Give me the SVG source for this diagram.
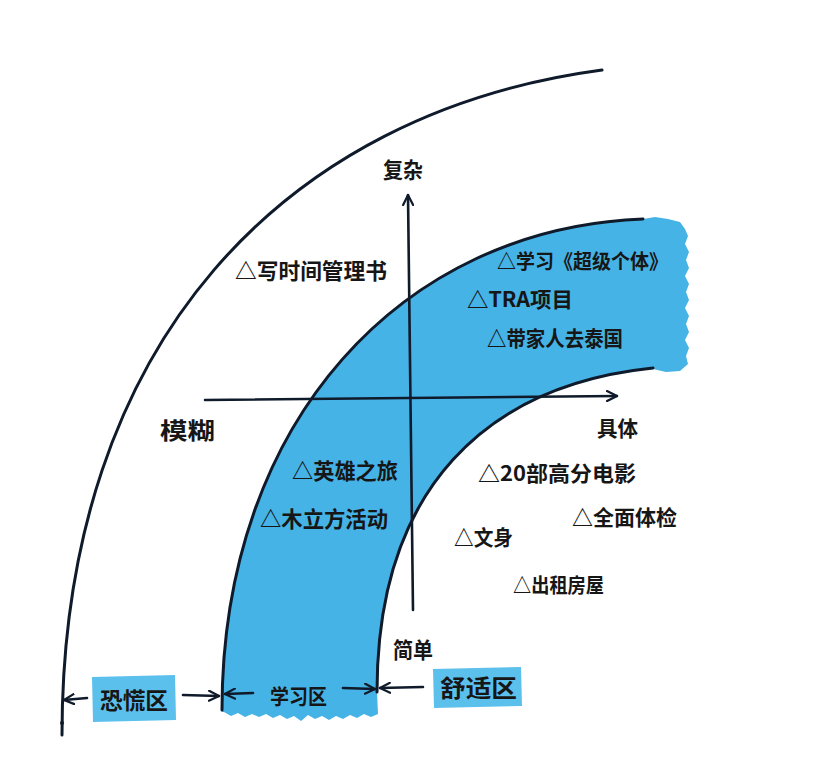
<svg xmlns="http://www.w3.org/2000/svg" width="816" height="776" viewBox="0 0 816 776">
<style>
  .ln{fill:none;stroke:#0f1a2b;stroke-width:3;stroke-linecap:round;stroke-linejoin:round}
  .ax{fill:none;stroke:#0f1a2b;stroke-width:2.6;stroke-linecap:round}
  .t{font-family:"Noto Sans CJK SC","Noto Sans",sans-serif;font-weight:700;fill:#161616}
  .blue{fill:#46b3e6}
  .box{fill:#5cc0ec}
</style>
<defs>
  <marker id="arr" viewBox="0 0 12 12" markerWidth="12" markerHeight="12" refX="11" refY="6" orient="auto" markerUnits="userSpaceOnUse">
    <path d="M1,1 L11,6 L1,11" fill="none" stroke="#0f1a2b" stroke-width="2.2" stroke-linecap="round" stroke-linejoin="round"/>
  </marker>
</defs>
<rect width="816" height="776" fill="#ffffff"/>

<g id="learning-zone-band">
  <path class="blue" d="M222,712 C222,420 403,228 643,219 L655,217 L668,219 L680,222 L685,229 L688,236 L685,244 L689,252 L686,260 L689,268 L685,276 L689,284 L686,292 L689,300 L685,308 L689,316 L686,324 L689,332 L685,340 L689,348 L686,356 L688,364 L680,371 L666,372 L653,369 C488,385 377,487 377,692 L378,714 L371,717 L364,714 L357,718 L350,715 L343,719 L336,716 L329,720 L322,716 L315,719 L308,715 L301,721 L294,716 L287,719 L280,715 L273,718 L266,714 L259,717 L252,714 L245,717 L238,713 L231,716 L224,712 Z"/>
  <path class="ln" d="M222,710 C222,420 403,228 643,219"/>
  <path class="ln" d="M377,692 C377,487 488,385 653,368"/>
</g>

<g id="panic-zone-boundary">
  <path class="ln" d="M62,735 C62,340 287,112 602,70"/>
  <circle cx="62" cy="723" r="2" fill="#0f1a2b"/>
</g>

<g id="connectors">
  <line class="ax" x1="413" y1="610" x2="408" y2="195" marker-end="url(#arr)"/>
  <line class="ax" x1="205" y1="400" x2="617" y2="396" marker-end="url(#arr)"/>
  <line class="ax" x1="87" y1="698" x2="64" y2="700" marker-end="url(#arr)"/>
  <line class="ax" x1="183" y1="695" x2="219" y2="696" marker-end="url(#arr)"/>
  <line class="ax" x1="253" y1="693" x2="225" y2="694" marker-end="url(#arr)"/>
  <line class="ax" x1="343" y1="688" x2="375" y2="689" marker-end="url(#arr)"/>
  <line class="ax" x1="423" y1="687" x2="380" y2="688" marker-end="url(#arr)"/>
</g>

<g id="axis-complex"><text class="t" x="383" y="178" font-size="22" textLength="40" lengthAdjust="spacingAndGlyphs">复杂</text></g>
<g id="axis-vague"><text class="t" x="160" y="439" font-size="23" textLength="55" lengthAdjust="spacingAndGlyphs">模糊</text></g>
<g id="axis-concrete"><text class="t" x="597" y="436" font-size="21" textLength="41" lengthAdjust="spacingAndGlyphs">具体</text></g>
<g id="axis-simple"><text class="t" x="393" y="658" font-size="22" textLength="40" lengthAdjust="spacingAndGlyphs">简单</text></g>

<g id="item-time-book"><text class="t" x="235" y="279" font-size="22" textLength="152" lengthAdjust="spacingAndGlyphs">△写时间管理书</text></g>
<g id="item-super-individual"><text class="t" x="497" y="269" font-size="20" textLength="171" lengthAdjust="spacingAndGlyphs">△学习《超级个体》</text></g>
<g id="item-tra"><text class="t" x="467" y="307" font-size="21" textLength="106" lengthAdjust="spacingAndGlyphs">△TRA项目</text></g>
<g id="item-thailand"><text class="t" x="487" y="346" font-size="21" textLength="136" lengthAdjust="spacingAndGlyphs">△带家人去泰国</text></g>
<g id="item-hero-journey"><text class="t" x="292" y="479" font-size="22" textLength="106" lengthAdjust="spacingAndGlyphs">△英雄之旅</text></g>
<g id="item-wood-cube"><text class="t" x="260" y="527" font-size="22" textLength="128" lengthAdjust="spacingAndGlyphs">△木立方活动</text></g>
<g id="item-movies"><text class="t" x="478" y="481" font-size="21" textLength="158" lengthAdjust="spacingAndGlyphs">△20部高分电影</text></g>
<g id="item-checkup"><text class="t" x="572" y="525" font-size="21" textLength="105" lengthAdjust="spacingAndGlyphs">△全面体检</text></g>
<g id="item-tattoo"><text class="t" x="454" y="545" font-size="21" textLength="59" lengthAdjust="spacingAndGlyphs">△文身</text></g>
<g id="item-rent"><text class="t" x="513" y="593" font-size="20" textLength="91" lengthAdjust="spacingAndGlyphs">△出租房屋</text></g>

<g id="label-panic">
  <path class="box" d="M92,677 L175,675 L176,720 L93,722 Z"/>
  <text class="t" x="100" y="709" font-size="23" textLength="68" lengthAdjust="spacingAndGlyphs">恐慌区</text>
</g>
<g id="label-learning">
  <text class="t" x="270" y="704" font-size="21" textLength="57" lengthAdjust="spacingAndGlyphs">学习区</text>
</g>
<g id="label-comfort">
  <path class="box" d="M433,669 L521,667 L522,706 L434,708 Z"/>
  <text class="t" x="440" y="697" font-size="24" textLength="77" lengthAdjust="spacingAndGlyphs">舒适区</text>
</g>
</svg>
